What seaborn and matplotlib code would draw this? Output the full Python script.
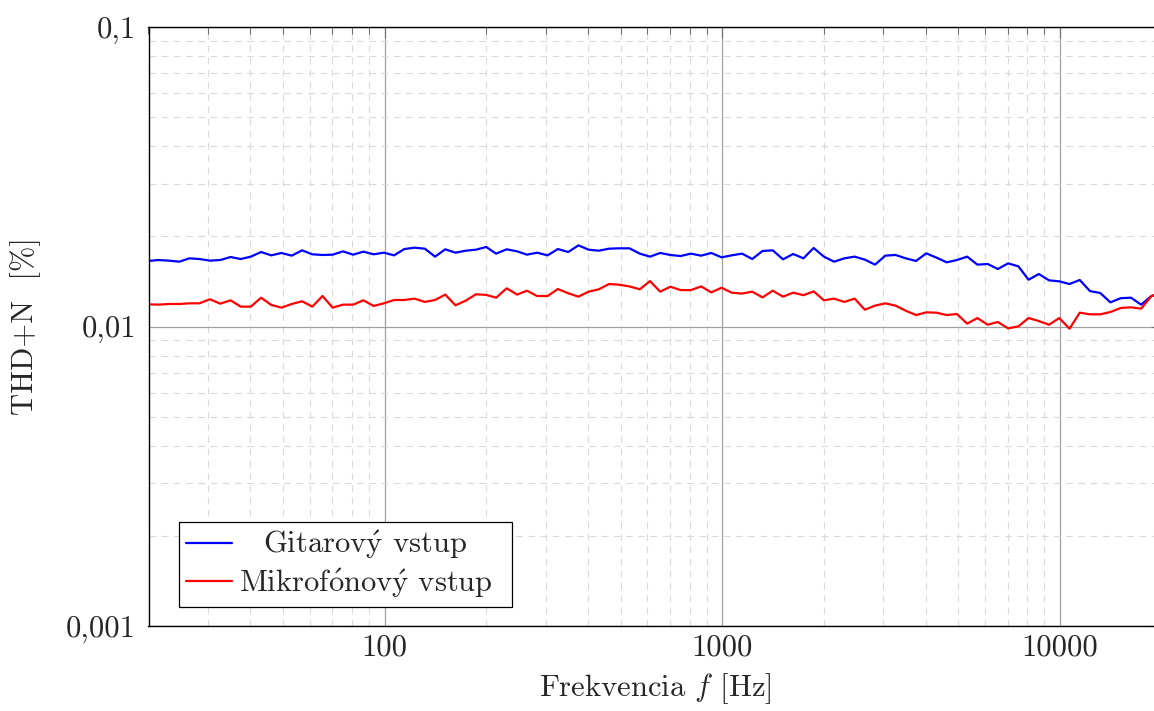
import matplotlib
matplotlib.use('Agg')
import matplotlib.pyplot as plt
import matplotlib.ticker as mticker
import matplotlib.transforms as mtransforms
import pandas as pd
import seaborn as sns

# measurement frequencies [Hz]
freq = [20.0, 21.4, 23.0, 24.7, 26.4, 28.3, 30.4, 32.6, 35.0, 37.5, 40.2, 43.1,
        46.2, 49.5, 53.1, 57.0, 61.1, 65.5, 70.2, 75.3, 80.7, 86.6, 92.8, 99.5,
        106.7, 114.5, 122.7, 131.6, 141.1, 151.3, 162.2, 174.0, 186.5,
        200, 214, 230, 247, 264, 283, 304, 326, 350, 375, 402, 431,
        462, 495, 531, 570, 611, 655, 702, 753, 807, 866, 928, 995,
        1067, 1145, 1227, 1316, 1411, 1513, 1622, 1740, 1865,
        2000, 2144, 2300, 2466, 2644, 2835, 3040, 3260, 3495, 3748, 4019, 4309,
        4620, 4954, 5312, 5696, 6108, 6549, 7022, 7530, 8074, 8658, 9283, 9954,
        10674, 11445, 12272, 13159, 14110, 15130, 16223, 17396, 18653, 20000]

# THD+N [%]
gitara = [0.01655, 0.01667, 0.01659, 0.01646, 0.01689, 0.01680, 0.01659, 0.01667,
          0.01706, 0.01680, 0.01711, 0.01773, 0.01728, 0.01760, 0.01724, 0.01796,
          0.01742, 0.01733, 0.01737, 0.01782, 0.01737, 0.01778, 0.01742, 0.01764,
          0.01728, 0.01814, 0.01833, 0.01819, 0.01711, 0.01810, 0.01764, 0.01791,
          0.01805, 0.01843, 0.01751, 0.01810, 0.01782, 0.01737, 0.01764, 0.01728,
          0.01814, 0.01773, 0.01866, 0.01805, 0.01791, 0.01819, 0.01824, 0.01824,
          0.01751, 0.01711, 0.01760, 0.01733, 0.01719, 0.01751, 0.01724, 0.01760,
          0.01702, 0.01728, 0.01751, 0.01680, 0.01787, 0.01796, 0.01676, 0.01746,
          0.01689, 0.01829, 0.01711, 0.01646, 0.01689, 0.01711, 0.01672, 0.01609,
          0.01724, 0.01733, 0.01689, 0.01655, 0.01755, 0.01698, 0.01638, 0.01667,
          0.01711, 0.01609, 0.01617, 0.01556, 0.01625, 0.01588, 0.01433, 0.01497,
          0.01426, 0.01415, 0.01386, 0.01430, 0.01313, 0.01294, 0.01204, 0.01243,
          0.01248, 0.01183, 0.01264, 0.01290]

mikrofon = [0.01186, 0.01183, 0.01189, 0.01189, 0.01195, 0.01195, 0.01233, 0.01192,
            0.01223, 0.01165, 0.01165, 0.01248, 0.01180, 0.01156, 0.01189, 0.01214,
            0.01165, 0.01264, 0.01156, 0.01183, 0.01183, 0.01223, 0.01171, 0.01195,
            0.01226, 0.01226, 0.01239, 0.01208, 0.01226, 0.01278, 0.01177, 0.01220,
            0.01281, 0.01275, 0.01248, 0.01341, 0.01278, 0.01317, 0.01264, 0.01264,
            0.01334, 0.01291, 0.01258, 0.01307, 0.01331, 0.01386, 0.01379, 0.01361,
            0.01331, 0.01418, 0.01307, 0.01358, 0.01323, 0.01323, 0.01361, 0.01300,
            0.01347, 0.01297, 0.01288, 0.01307, 0.01251, 0.01317, 0.01258, 0.01297,
            0.01272, 0.01310, 0.01223, 0.01239, 0.01208, 0.01239, 0.01138, 0.01174,
            0.01195, 0.01174, 0.01129, 0.01092, 0.01115, 0.01112, 0.01092, 0.01101,
            0.01022, 0.01067, 0.01014, 0.01035, 0.00986, 0.01001, 0.01067, 0.01043,
            0.01014, 0.01067, 0.00983, 0.01112, 0.01098, 0.01098, 0.01118, 0.01153,
            0.01159, 0.01147, 0.01264, 0.01290]

series = ['Gitarový vstup', 'Mikrofónový vstup']
legend_labels = [r'Gitarov$\acute{\mathrm{y}}$ vstup',
                 r'Mikrof$\acute{\mathrm{o}}$nov$\acute{\mathrm{y}}$ vstup']
colors = ['#0000ff', '#ff0000']
ytick_vals = [0.001, 0.01, 0.1]
ytick_labels = ['0,001', '0,01', '0,1']
xtick_vals = [100, 1000, 10000]
xtick_labels = ['100', '1000', '10000']

sns.set_style('white')
plt.rcParams['font.family'] = ['cmr10', 'DejaVu Serif']
plt.rcParams['mathtext.fontset'] = 'cm'
plt.rcParams['axes.formatter.use_mathtext'] = True
plt.rcParams['font.size'] = 22

df = pd.DataFrame({
    'f': freq + freq,
    'thd': gitara + mikrofon,
    'vstup': [series[0]] * len(freq) + [series[1]] * len(freq),
})

W, H = 1154, 711
fig = plt.figure(figsize=(W / 100, H / 100), dpi=100)
# right edge of the axes (20 kHz) lies just outside the picture, as in the original
ax = fig.add_axes([148.5 / W, 85 / H, (1161.6 - 148.5) / W, 599 / H])

sns.lineplot(data=df, x='f', y='thd', hue='vstup', hue_order=series,
             palette=colors, linewidth=1.6, estimator=None, sort=False,
             legend=False, ax=ax)

ax.set_xscale('log')
ax.set_yscale('log')
ax.set_xlim(20, 20000)
ax.set_ylim(0.001, 0.1)

ax.xaxis.set_major_locator(mticker.FixedLocator(xtick_vals))
ax.xaxis.set_major_formatter(mticker.FixedFormatter(xtick_labels))
ax.xaxis.set_minor_locator(mticker.LogLocator(base=10, subs=range(2, 10), numticks=20))
ax.xaxis.set_minor_formatter(mticker.NullFormatter())
ax.yaxis.set_major_locator(mticker.FixedLocator(ytick_vals))
ax.yaxis.set_major_formatter(mticker.FixedFormatter(ytick_labels))
ax.yaxis.set_minor_locator(mticker.LogLocator(base=10, subs=range(2, 10), numticks=20))
ax.yaxis.set_minor_formatter(mticker.NullFormatter())

ax.set_axisbelow(True)
ax.grid(which='major', color='#a0a0a0', linewidth=0.9, linestyle='-')
ax.grid(which='minor', color='#dadada', linewidth=0.8, linestyle=(0, (6, 5)))

ax.tick_params(which='both', direction='in', top=True, right=True,
               color='#707070', width=0.8)
ax.tick_params(which='major', length=8)
ax.tick_params(which='minor', length=5)
ax.tick_params(axis='x', which='major', pad=6)
ax.tick_params(axis='y', which='major', pad=9)
for sp in ax.spines.values():
    sp.set_color('black')
    sp.set_linewidth(1.0)

ax.set_xlabel('Frekvencia $f$ [Hz]', labelpad=7)
ax.set_ylabel('THD+N  [%]', labelpad=18)

# extra room on the right of the legend text (pgfplots leaves more there)
extra = 13
leg = ax.legend(handles=ax.lines[:2], labels=legend_labels, loc='lower left',
                bbox_to_anchor=(0.0304, 0.0322), borderaxespad=0, frameon=True,
                fancybox=False, edgecolor='black', framealpha=1,
                borderpad=0.22, handlelength=1.5,
                handletextpad=0.22 + extra / (22 * 100 / 72),
                labelspacing=0.16, fontsize=22)
leg.get_frame().set_linewidth(0.9)

# centre the shorter legend entry, as in the original
fig.canvas.draw()
r = fig.canvas.get_renderer()
t0, t1 = leg.get_texts()
dx = (t1.get_window_extent(r).width - t0.get_window_extent(r).width) / 2
t0.set_transform(t0.get_transform() + mtransforms.Affine2D().translate(dx - extra, 0))
t1.set_transform(t1.get_transform() + mtransforms.Affine2D().translate(-extra, 0))

fig.savefig('out.png', dpi=100)
